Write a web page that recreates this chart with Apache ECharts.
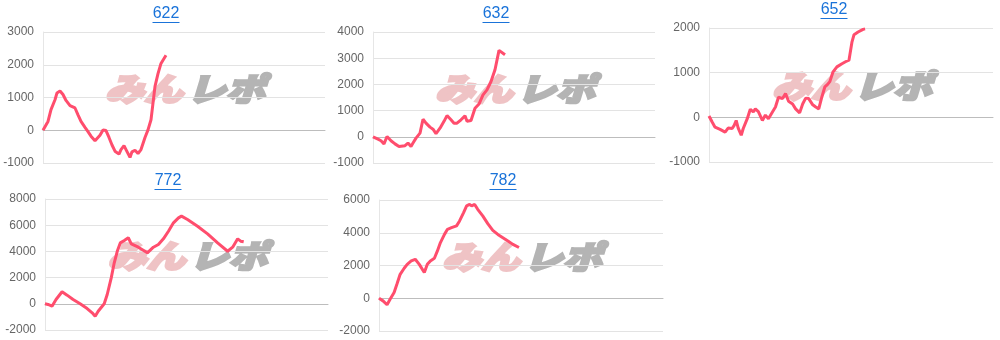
<!DOCTYPE html>
<html>
<head>
<meta charset="utf-8">
<script src="https://cdn.jsdelivr.net/npm/echarts@6/dist/echarts.min.js"></script>
<style>
html,body{margin:0;padding:0;background:#fff;}
#c{width:1000px;height:340px;}
</style>
</head>
<body>
<div id="c"></div>
<script>
// ---- data (x = progress units over a 0..282 span, y = difference) ----
const titles = ['622', '632', '652', '772', '782'];

const x622 = [0, 2, 5, 8, 12, 14, 17, 20, 23, 27, 29, 32, 35, 38, 42, 45, 48, 52, 54, 57, 60, 63, 66, 69, 72, 76, 78, 81, 83, 87, 89, 92, 95, 98, 102, 105, 108, 110, 112, 115, 118, 123];
const y622 = [0, -50, 270, 630, 930, 1140, 1200, 1090, 910, 750, 800, 680, 470, 270, 90, -40, -180, -320, -350, -150, 10, -10, -220, -450, -640, -730, -590, -470, -590, -830, -660, -610, -710, -590, -220, 10, 320, 830, 1340, 1730, 2040, 2290];

const x632 = [0, 5, 8, 11, 14, 18, 22, 26, 28, 32, 35, 38, 40, 43, 47, 50, 53, 57, 60, 63, 67, 71, 74, 78, 81, 84, 88, 92, 94, 98, 102, 106, 110, 114, 118, 122, 126, 128, 132];
const y632 = [0, -90, -150, -270, 10, -150, -270, -370, -400, -340, -240, -370, -240, -50, 140, 670, 520, 370, 290, 120, 330, 590, 810, 650, 520, 520, 650, 800, 590, 620, 1090, 1250, 1600, 1790, 2110, 2560, 3300, 3260, 3130];

const x652 = [0, 3, 6, 11, 16, 19, 23, 25, 27, 29, 32, 34, 38, 41, 44, 46, 49, 53, 56, 59, 63, 66, 69, 73, 76, 79, 83, 86, 90, 93, 96, 99, 103, 106, 109, 112, 115, 117, 120, 123, 127, 132, 136, 139, 142, 144, 148, 153, 155];
const y652 = [30, -100, -220, -270, -330, -240, -250, -180, -70, -240, -400, -250, -30, 180, 120, 190, 130, -70, 50, -30, 120, 230, 450, 420, 530, 360, 300, 190, 100, 300, 430, 420, 280, 230, 190, 450, 680, 720, 800, 1010, 1130, 1200, 1250, 1280, 1690, 1850, 1910, 1970, 1980];

const x772 = [0, 3, 7, 11, 17, 22, 28, 35, 42, 47, 50, 53, 59, 62, 66, 69, 72, 75, 79, 83, 86, 93, 102, 108, 113, 118, 123, 128, 133, 136, 142, 152, 162, 172, 182, 187, 192, 195, 198];
const y772 = [0, -50, -180, 330, 920, 660, 330, 0, -360, -690, -950, -570, 0, 710, 1980, 3130, 4010, 4650, 4830, 5040, 4580, 4320, 3890, 4320, 4530, 4960, 5540, 6180, 6560, 6690, 6430, 5920, 5340, 4650, 4010, 4320, 4960, 4780, 4730];

const x782 = [0, 4, 8, 11, 15, 18, 21, 25, 28, 32, 36, 40, 45, 48, 51, 55, 58, 61, 65, 68, 72, 77, 80, 84, 87, 90, 92, 95, 98, 103, 108, 113, 118, 123, 128, 133, 139];
const y782 = [0, -160, -400, -60, 350, 900, 1460, 1830, 2070, 2280, 2380, 2070, 1570, 2070, 2280, 2440, 2890, 3400, 3900, 4210, 4310, 4420, 4720, 5230, 5640, 5730, 5640, 5730, 5430, 5030, 4560, 4150, 3900, 3700, 3500, 3290, 3100];

const yMins = [-1000, -1000, -1000, -2000, -2000];
const yMaxs = [3000, 4000, 2000, 8000, 6000];
const yIntervals = [1000, 1000, 1000, 2000, 2000];
const xSpan = 282;

// ---- layout ----
const grids = [
  {left: 43,  top: 32,  width: 282, height: 131},
  {left: 373, top: 32,  width: 282, height: 131},
  {left: 709, top: 28,  width: 284, height: 134},
  {left: 45,  top: 199, width: 283, height: 131},
  {left: 379, top: 200, width: 284, height: 131}
];
const titlePos = [[166, 14], [496, 14], [834, 10], [168, 181], [503, 181]];

const xs = [x622, x632, x652, x772, x782];
const ys = [y622, y632, y652, y772, y782];

const chart = echarts.init(document.getElementById('c'), null, {renderer: 'canvas'});

const graphic = [];
titles.forEach((t, i) => {
  const [cx, cy] = titlePos[i];
  graphic.push({
    type: 'text', x: cx, y: cy, z: 10,
    style: {text: t, fill: '#1a73d9', font: '16px "Liberation Sans", Arial, sans-serif',
            textAlign: 'center', textVerticalAlign: 'middle'}
  });
  graphic.push({
    type: 'line', z: 10,
    shape: {x1: cx - 13.5, y1: cy + 8.5, x2: cx + 13.5, y2: cy + 8.5},
    style: {stroke: '#1a73d9', lineWidth: 1}
  });
  const g = grids[i];
  const wx = g.left + g.width / 2;
  const wy = g.top + g.height / 2 - 9;
  graphic.push({
    type: 'text', x: wx - 1, y: wy, z: 0, silent: true, scaleX: 1.22,
    style: {text: 'みん', fill: '#efc3c5', stroke: '#efc3c5', lineWidth: 2.5,
            font: 'italic 900 32px "Noto Sans CJK JP", sans-serif',
            textAlign: 'right', textVerticalAlign: 'middle'}
  });
  graphic.push({
    type: 'text', x: wx + 3, y: wy, z: 0, silent: true, scaleX: 1.22,
    style: {text: 'レポ', fill: '#b4b4b4', stroke: '#b4b4b4', lineWidth: 2.5,
            font: 'italic 900 32px "Noto Sans CJK JP", sans-serif',
            textAlign: 'left', textVerticalAlign: 'middle'}
  });
});

const option = {
  backgroundColor: '#fff',
  animation: false,
  grid: grids,
  xAxis: grids.map((g, i) => ({
    type: 'value', gridIndex: i, min: 0, max: xSpan,
    axisLine: {show: true, onZero: true, lineStyle: {color: '#bdbdbd', width: 1}},
    axisTick: {show: false}, axisLabel: {show: false}, splitLine: {show: false}
  })),
  yAxis: grids.map((g, i) => ({
    type: 'value', gridIndex: i, min: yMins[i], max: yMaxs[i], interval: yIntervals[i],
    axisLine: {show: true, lineStyle: {color: '#e6e6e6'}},
    axisTick: {show: false},
    axisLabel: {color: '#666', fontSize: 12, margin: 9,
                fontFamily: '"Liberation Sans", Arial, sans-serif',
                formatter: v => String(v)},
    splitLine: {show: true, lineStyle: {color: '#e3e3e3', width: 1}}
  })),
  graphic: graphic,
  series: xs.map((xa, i) => ({
    type: 'line', xAxisIndex: i, yAxisIndex: i, z: 5,
    showSymbol: false, symbol: 'none',
    lineStyle: {color: '#ff4d6d', width: 3},
    data: xa.map((x, k) => [x, ys[i][k]])
  }))
};
chart.setOption(option);
</script>
</body>
</html>
